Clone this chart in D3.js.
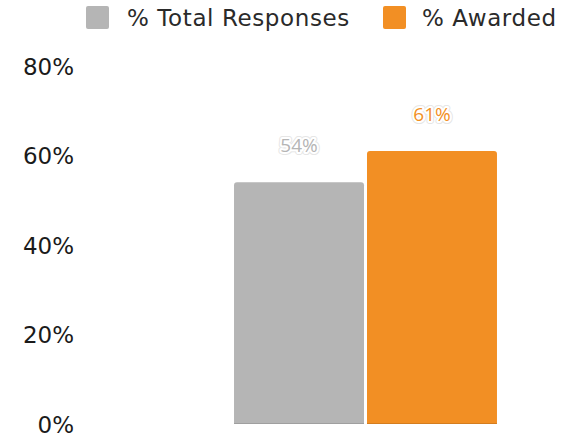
<!DOCTYPE html>
<html>
<head>
<meta charset="utf-8">
<script src="https://cdn.jsdelivr.net/npm/d3@7"></script>
<style>
  html, body { margin: 0; padding: 0; background: #fff; }
  svg { display: block; }
</style>
</head>
<body>
<svg id="chart" width="569" height="437"></svg>
<script>
// Chart data
const categories = [""];
const seriesNames = ["% Total Responses", "% Awarded"];
const seriesColors = ["#b5b5b5", "#f28f24"];
const totalResponses = [54];
const awarded = [61];
const yTicks = [0, 20, 40, 60, 80];

const seriesValues = [totalResponses, awarded];

const W = 569, H = 437;
const svg = d3.select("#chart");

const y = d3.scaleLinear().domain([0, 80]).range([424, 66]);
const x0 = d3.scaleBand().domain(categories).range([162, 569])
  .paddingInner(0.215).paddingOuter(0.215);
const x1 = d3.scaleBand().domain(seriesNames).range([0, x0.bandwidth()])
  .paddingInner(3 / 133).paddingOuter(0);

// Y axis labels (no line, no ticks)
const yAxis = d3.axisLeft(y).tickValues(yTicks).tickFormat(d => d + "%")
  .tickSize(0).tickPadding(0);
const gy = svg.append("g").attr("transform", "translate(74,0)").call(yAxis);
gy.select(".domain").remove();
gy.selectAll("text")
  .attr("font-family", "DejaVu Sans, Verdana, sans-serif")
  .attr("font-size", 23)
  .attr("fill", "#1a1a1a")
  .attr("dy", "0.36em");

// Bars with rounded top corners
function topRoundedRect(x, yTop, w, h, r) {
  return `M${x},${yTop + h}V${yTop + r}Q${x},${yTop} ${x + r},${yTop}` +
    `H${x + w - r}Q${x + w},${yTop} ${x + w},${yTop + r}V${yTop + h}Z`;
}

const rows = [];
categories.forEach((c, ci) => {
  seriesNames.forEach((s, si) => {
    rows.push({ cat: c, series: s, value: seriesValues[si][ci], color: seriesColors[si] });
  });
});

const g = svg.append("g");
g.selectAll("path.bar").data(rows).join("path")
  .attr("class", "bar")
  .attr("d", d => {
    const bx = x0(d.cat) + x1(d.series);
    const top = y(d.value);
    return topRoundedRect(bx, top, x1.bandwidth(), y(0) - top, 3);
  })
  .attr("fill", d => d.color);

// Thin shade along the bottom of each bar
g.selectAll("rect.base").data(rows).join("rect")
  .attr("class", "base")
  .attr("x", d => x0(d.cat) + x1(d.series))
  .attr("y", y(0) - 1)
  .attr("width", x1.bandwidth())
  .attr("height", 1)
  .attr("fill", "#000").attr("opacity", 0.12);

// Value labels with a white halo
const labelFont = "'Open Sans', sans-serif";
const lbl = g.selectAll("g.lbl").data(rows).join("g").attr("class", "lbl")
  .attr("transform", d => `translate(${x0(d.cat) + x1(d.series) + x1.bandwidth() / 2},${y(d.value) - 30})`);
[["#e6e6e6", 6], ["#ffffff", 4]].forEach(([col, sw]) => {
  lbl.append("text")
    .attr("text-anchor", "middle")
    .attr("font-family", labelFont).attr("font-size", 19)
    .attr("fill", col).attr("stroke", col).attr("stroke-width", sw)
    .attr("stroke-linejoin", "round")
    .text(d => d.value + "%");
});
lbl.append("text")
  .attr("text-anchor", "middle")
  .attr("font-family", labelFont).attr("font-size", 19)
  .attr("fill", d => d.color)
  .text(d => d.value + "%");

// Legend
const legendItems = [
  { name: seriesNames[0], color: seriesColors[0], x: 86, tx: 127 },
  { name: seriesNames[1], color: seriesColors[1], x: 383, tx: 422 }
];
const lg = svg.append("g");
lg.selectAll("rect").data(legendItems).join("rect")
  .attr("x", d => d.x).attr("y", 6).attr("width", 23).attr("height", 23)
  .attr("rx", 2).attr("fill", d => d.color);
lg.selectAll("text").data(legendItems).join("text")
  .attr("x", d => d.tx).attr("y", 18).attr("dy", "0.36em")
  .attr("font-family", "DejaVu Sans, Verdana, sans-serif")
  .attr("font-size", 23).attr("letter-spacing", 0.6).attr("fill", "#2a2a2a")
  .text(d => d.name);
</script>
</body>
</html>
